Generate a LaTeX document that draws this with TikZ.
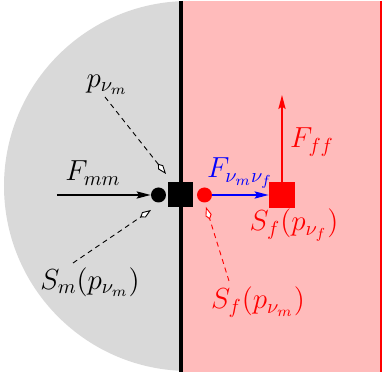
\documentclass[tikz,border=0pt]{standalone}
\usepackage{fix-cm}
\usetikzlibrary{arrows.meta}
\definecolor{diskgray}{RGB}{217,217,217}
\definecolor{pinkbg}{RGB}{255,187,187}
\begin{document}
\begin{tikzpicture}[x=0.5pt,y=-0.5pt,
  every node/.style={font=\fontsize{14.5}{17}\selectfont},
  dotnode/.style={circle,inner sep=0pt,minimum size=7.5pt},
  sqnode/.style={rectangle,inner sep=0pt,minimum size=12.5pt},
  forcearrow/.style={line width=0.75pt,-{Stealth[length=7pt,width=3.6pt,inset=1.2pt]}},
  ptrarrow/.style={line width=0.45pt,dash pattern=on 2.5pt off 2pt,-{Kite[open,fill=white,length=6.5pt,width=3.2pt,inset=2.2pt]}}]
\useasboundingbox (0,0) rectangle (382,378);
% background regions
\fill[diskgray] (189,186) circle[radius=185];
\fill[pinkbg] (181,1) rectangle (381,372);
\draw[red,line width=0.7pt] (381,1) -- (381,372);
\draw[line width=2.3pt] (181,1) -- (181,372);
% particles
\node[dotnode,fill=black] (mc) at (158.5,195) {};
\node[sqnode,fill=black,minimum size=12.5pt] (ms) at (181,195) {};
\node[dotnode,fill=red] (fc) at (204.5,195) {};
\node[sqnode,fill=red,minimum size=13pt] (fs) at (282,195) {};
% labels
\node (Fmm) at (93,173) {$F_{mm}$};
\node[text=blue] (Fvv) at (240,173) {$F_{\nu_m\nu_f}$};
\node[text=red] (Fff) at (312,142) {$F_{ff}$};
\node[text=red] (Sfvf) at (294,225) {$S_f(p_{\nu_f})$};
\node[text=red] (Sfvm) at (258,302) {$S_f(p_{\nu_m})$};
\node (pvm) at (107,85) {$p_{\nu_m}$};
\node (Smvm) at (90,282) {$S_m(p_{\nu_m})$};
% connector end points
\coordinate (Fmmtail) at (57,195);
\coordinate (Ffftip) at (282,95);
\coordinate (ptail) at (105,97);
\coordinate (ptip) at (166,174);
\coordinate (stail) at (73,263);
\coordinate (stip) at (151,210);
\coordinate (rtail) at (229,281);
\coordinate (rtip) at (206,207);
% force arrows
\draw[forcearrow] (Fmmtail) -- (mc);
\draw[forcearrow,blue] (fc) -- (fs);
\draw[forcearrow,red] (fs) -- (Ffftip);
% dashed pointers
\draw[ptrarrow] (ptail) -- (ptip);
\draw[ptrarrow] (stail) -- (stip);
\draw[ptrarrow,red] (rtail) -- (rtip);
\end{tikzpicture}
\end{document}
